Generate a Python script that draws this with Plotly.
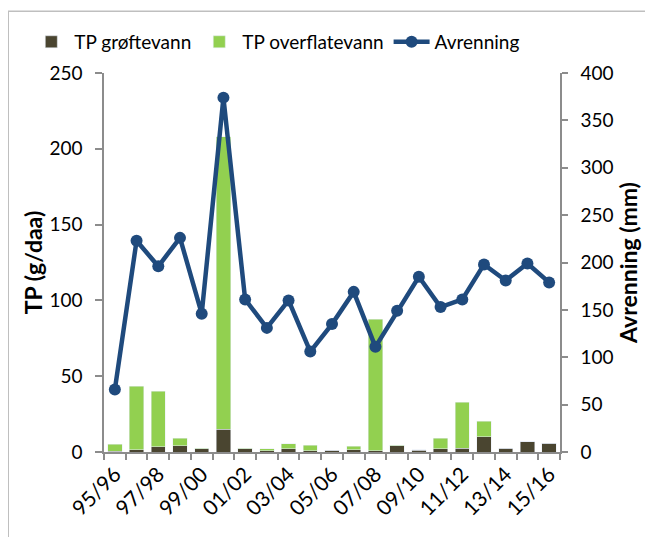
import plotly.graph_objects as go

# Sesonger (agrohydrologisk år)
seasons = ["95/96", "96/97", "97/98", "98/99", "99/00", "00/01", "01/02",
           "02/03", "03/04", "04/05", "05/06", "06/07", "07/08", "08/09",
           "09/10", "10/11", "11/12", "12/13", "13/14", "14/15", "15/16"]

# TP (g/daa), lest av figuren
tp_groftevann = [0.5, 1.5, 3.5, 4.2, 2.0, 15.0, 2.0, 0.9, 2.2, 0.9, 1.2,
                 1.5, 0.9, 4.0, 1.3, 2.2, 2.6, 10.0, 2.6, 6.8, 5.7]
tp_overflatevann = [4.6, 42.0, 36.5, 4.8, 0.4, 193.0, 0.5, 1.3, 3.1, 3.7, 0.1,
                    2.3, 86.6, 0.6, 0.2, 6.8, 30.2, 10.4, 0.0, 0.0, 0.0]

# Avrenning (mm)
avrenning = [66, 223, 196, 226, 146, 374, 161, 131, 160, 106, 135,
             169, 111, 149, 185, 153, 161, 198, 181, 199, 179]

x = list(range(len(seasons)))
font = "Lato"

fig = go.Figure()
fig.add_trace(go.Bar(x=x, y=tp_groftevann, name="TP grøftevann",
                     marker_color="#4A4530"))
fig.add_trace(go.Bar(x=x, y=tp_overflatevann, name="TP overflatevann",
                     marker_color="#92D050"))
fig.add_trace(go.Scatter(x=x, y=avrenning, name="Avrenning", yaxis="y2",
                         mode="lines+markers",
                         line=dict(color="#1F4A7D", width=4.5),
                         marker=dict(size=12, color="#1F4A7D")))

# siden har 8 px marg rundt figuren, så figuren gjøres litt mindre
axis_col = "#8C8C8C"
fig.update_layout(
    width=645, height=529,
    barmode="stack", bargap=0.34,
    plot_bgcolor="white", paper_bgcolor="white",
    font=dict(family=font, size=19, color="black"),
    margin=dict(l=96, r=93, t=65, b=85, autoexpand=False),
    showlegend=True,
    legend=dict(orientation="h", x=-0.166, y=1.082,
                xanchor="left", yanchor="middle",
                font=dict(size=19), itemwidth=36, traceorder="normal"),
    xaxis=dict(range=[-0.5, 20.5], tickmode="array",
               tickvals=x[::2], ticktext=seasons[::2], tickangle=-45,
               tickfont=dict(size=21),
               ticks="", showline=True, linecolor=axis_col, linewidth=1.5,
               showgrid=False, zeroline=False,
               minor=dict(ticks="outside", tick0=-0.5, dtick=1, ticklen=6,
                          tickcolor=axis_col, tickwidth=1.5, showgrid=False)),
    yaxis=dict(range=[0, 250], dtick=50, ticks="outside", ticklen=7,
               tickcolor=axis_col, tickwidth=1.5, showline=True,
               linecolor=axis_col, linewidth=1.5, showgrid=False,
               zeroline=False, ticklabelstandoff=9,
               title=dict(text="<b>TP (g/daa)</b>", standoff=0)),
    yaxis2=dict(range=[0, 400], dtick=50, overlaying="y", side="right",
                ticks="outside", ticklen=6, tickcolor=axis_col, tickwidth=1.5,
                showline=True, linecolor=axis_col, linewidth=1.5,
                showgrid=False, zeroline=False, ticklabelstandoff=9,
                title=dict(text="<b>Avrenning (mm)</b>", standoff=2)),
)

# Ramme rundt diagrammet
fig.add_shape(type="rect", xref="paper", yref="paper",
              x0=-0.21, x1=1.25, y0=-0.3, y1=1.163,
              line=dict(color="#BFBFBF", width=1.5), layer="below")

fig.write_html("out.html")
